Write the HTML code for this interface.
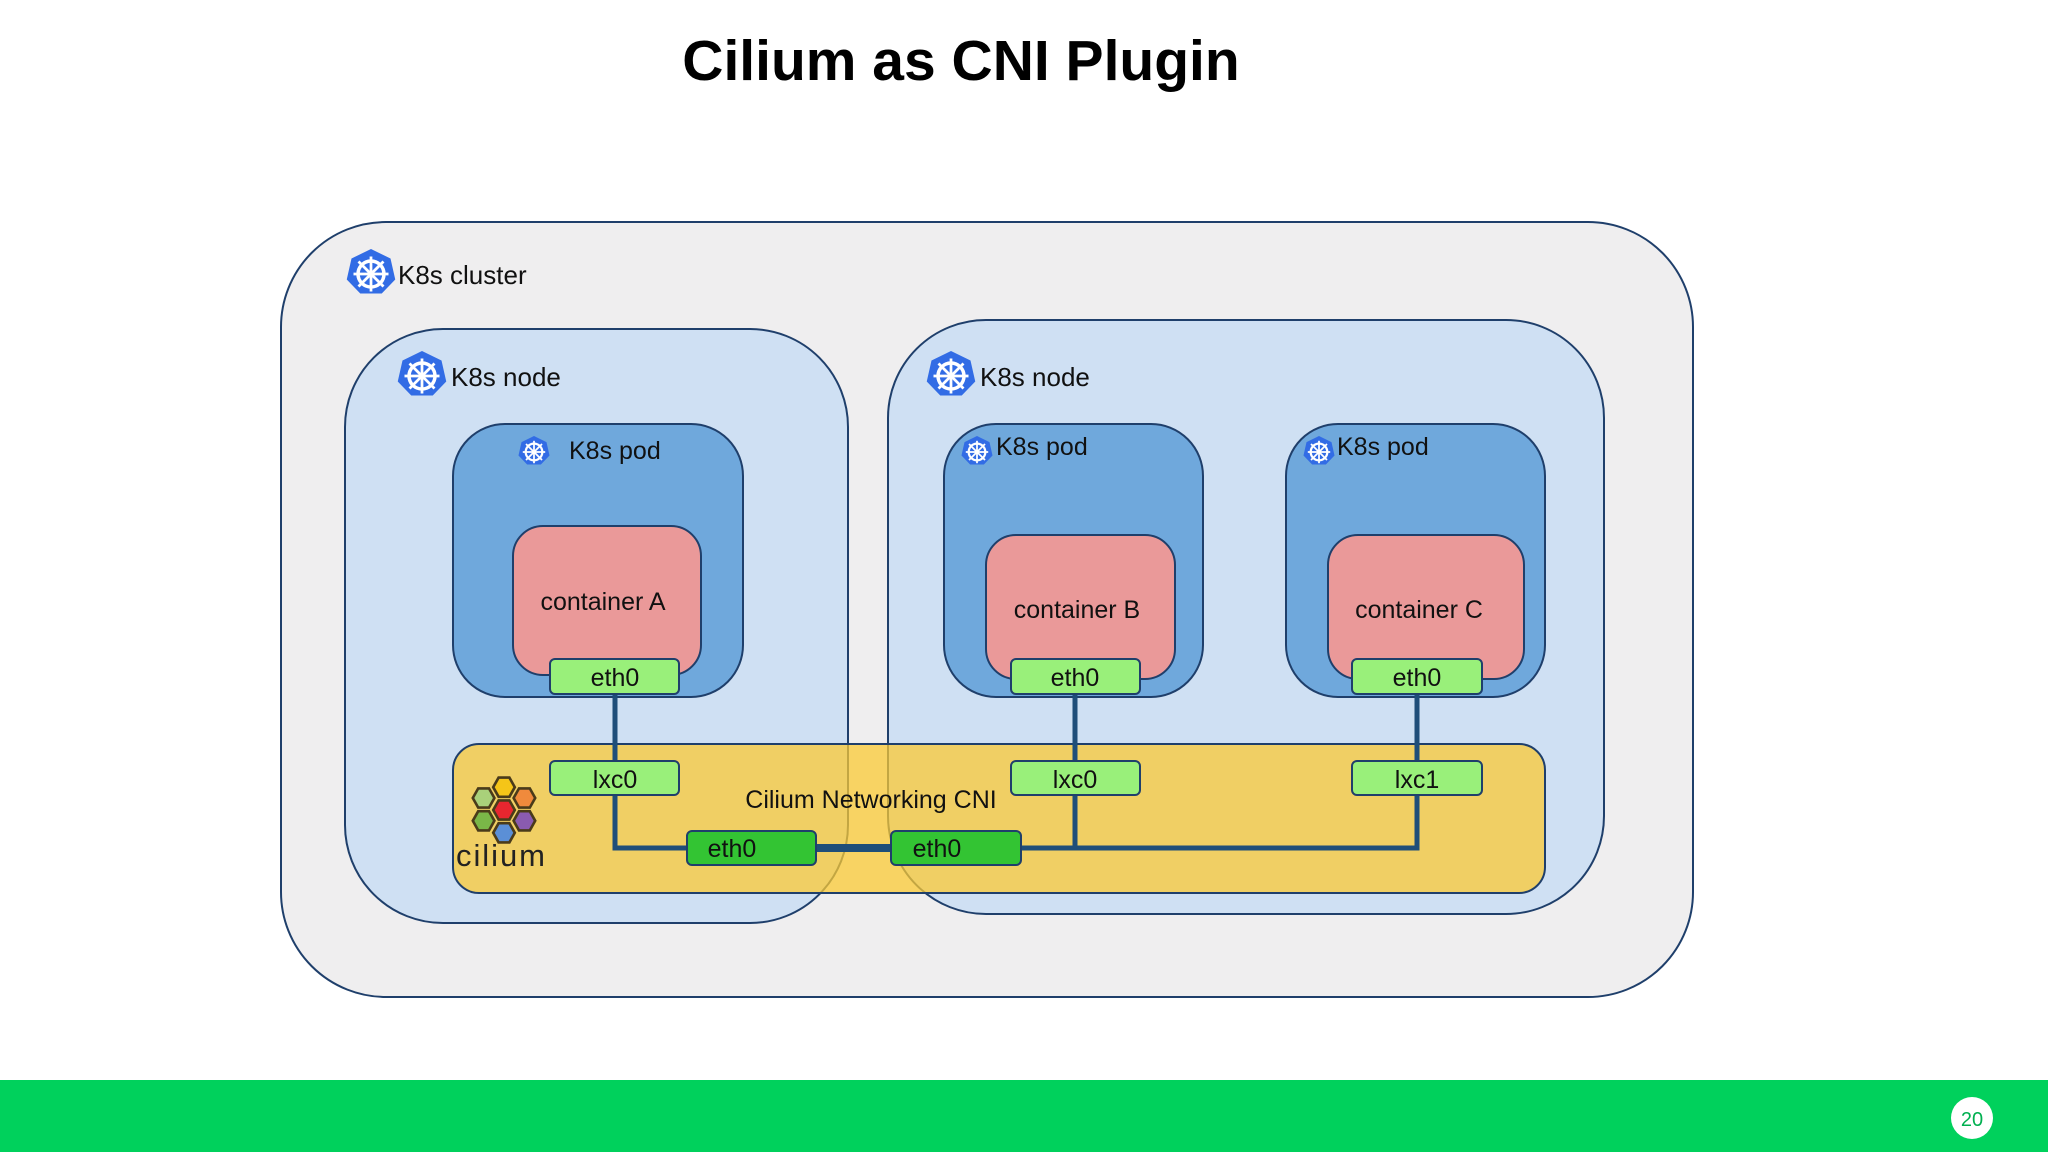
<!DOCTYPE html>
<html><head><meta charset="utf-8"><style>
html,body{margin:0;padding:0;background:#fff;}
svg{display:block}
text{font-family:"Liberation Sans",sans-serif;}
</style></head><body>
<svg width="2048" height="1152" viewBox="0 0 2048 1152" xmlns="http://www.w3.org/2000/svg">
<defs>
<g id="k8s">
<polygon points="0,-10 7.8,-6.2 9.7,2.2 4.3,7.8 -4.3,7.8 -9.7,2.2 -7.8,-6.2" fill="#326ce5"/>
<circle r="5.2" fill="none" stroke="#fff" stroke-width="1.4"/>
<circle r="1.3" fill="#fff"/>
<g stroke="#fff" stroke-width="1.1">
<line x1="0" y1="-7" x2="0" y2="7"/><line x1="-7" y1="0" x2="7" y2="0"/>
<line x1="-5" y1="-5" x2="5" y2="5"/><line x1="-5" y1="5" x2="5" y2="-5"/>
</g>
</g>
<polygon id="hex" points="-9,0 -4.5,-8 4.5,-8 9,0 4.5,8 -4.5,8" stroke="#4a3b1a" stroke-width="2.2"/>
</defs>
<rect width="2048" height="1152" fill="#fff"/>
<text x="961" y="80" text-anchor="middle" font-size="57" font-weight="bold" fill="#000">Cilium as CNI Plugin</text>

<rect x="281" y="222" width="1412" height="775" rx="105" fill="#efeeef" stroke="#1f3f6b" stroke-width="2"/>
<use href="#k8s" transform="translate(371,274) scale(2.5)"/>
<text x="398" y="284" font-size="26" fill="#111">K8s cluster</text>

<rect x="345" y="329" width="503" height="594" rx="98" fill="#cfe0f3" stroke="#1f3f6b" stroke-width="2"/>
<rect x="888" y="320" width="716" height="594" rx="98" fill="#cfe0f3" stroke="#1f3f6b" stroke-width="2"/>
<use href="#k8s" transform="translate(422,376) scale(2.5)"/>
<text x="451" y="386" font-size="26" fill="#111">K8s node</text>
<use href="#k8s" transform="translate(951,376) scale(2.5)"/>
<text x="980" y="386" font-size="26" fill="#111">K8s node</text>

<rect x="453" y="424" width="290" height="273" rx="52" fill="#6fa8dc" stroke="#1f3f6b" stroke-width="2"/>
<rect x="944" y="424" width="259" height="273" rx="52" fill="#6fa8dc" stroke="#1f3f6b" stroke-width="2"/>
<rect x="1286" y="424" width="259" height="273" rx="52" fill="#6fa8dc" stroke="#1f3f6b" stroke-width="2"/>
<use href="#k8s" transform="translate(534,452) scale(1.6)"/>
<text x="569" y="459" font-size="25" fill="#111">K8s pod</text>
<use href="#k8s" transform="translate(977,452) scale(1.6)"/>
<text x="996" y="455" font-size="25" fill="#111">K8s pod</text>
<use href="#k8s" transform="translate(1319,452) scale(1.6)"/>
<text x="1337" y="455" font-size="25" fill="#111">K8s pod</text>

<rect x="513" y="526" width="188" height="149" rx="30" fill="#ea9999" stroke="#1f3f6b" stroke-width="2"/>
<rect x="986" y="535" width="189" height="144" rx="30" fill="#ea9999" stroke="#1f3f6b" stroke-width="2"/>
<rect x="1328" y="535" width="196" height="144" rx="30" fill="#ea9999" stroke="#1f3f6b" stroke-width="2"/>
<text x="603" y="610" text-anchor="middle" font-size="25" fill="#111">container A</text>
<text x="1077" y="618" text-anchor="middle" font-size="25" fill="#111">container B</text>
<text x="1419" y="618" text-anchor="middle" font-size="25" fill="#111">container C</text>

<rect x="453" y="744" width="1092" height="149" rx="26" fill="#fbc934" fill-opacity="0.75" stroke="#1f3f6b" stroke-width="2"/>
<text x="871" y="808" text-anchor="middle" font-size="25" fill="#111">Cilium Networking CNI</text>

<g stroke="#1f4e79" stroke-width="5" fill="none">
<line x1="615" y1="694" x2="615" y2="761"/>
<polyline points="615,795 615,848 687,848"/>
<line x1="1075" y1="694" x2="1075" y2="761"/>
<line x1="1075" y1="795" x2="1075" y2="848"/>
<line x1="1417" y1="694" x2="1417" y2="761"/>
<polyline points="1021,848 1417,848 1417,795"/>
</g>
<line x1="816" y1="848" x2="891" y2="848" stroke="#1f4e79" stroke-width="8"/>

<g stroke="#1f3f6b" stroke-width="2" fill="#99f07a">
<rect x="550" y="659" width="129" height="35" rx="5"/>
<rect x="1011" y="659" width="129" height="35" rx="5"/>
<rect x="1352" y="659" width="130" height="35" rx="5"/>
<rect x="550" y="761" width="129" height="34" rx="5"/>
<rect x="1011" y="761" width="129" height="34" rx="5"/>
<rect x="1352" y="761" width="130" height="34" rx="5"/>
</g>
<g stroke="#1f3f6b" stroke-width="2" fill="#33c433">
<rect x="687" y="831" width="129" height="34" rx="5"/>
<rect x="891" y="831" width="130" height="34" rx="5"/>
</g>
<g font-size="25" fill="#111" text-anchor="middle">
<text x="615" y="686">eth0</text>
<text x="1075" y="686">eth0</text>
<text x="1417" y="686">eth0</text>
<text x="615" y="788">lxc0</text>
<text x="1075" y="788">lxc0</text>
<text x="1417" y="788">lxc1</text>
<text x="732" y="857">eth0</text>
<text x="937" y="857">eth0</text>
</g>

<g transform="translate(504,810) scale(1.2)">
<use href="#hex" fill="#f5c518" transform="translate(0,-19)"/>
<use href="#hex" fill="#a9d17a" transform="translate(-17,-10)"/>
<use href="#hex" fill="#f08a3c" transform="translate(17,-10)"/>
<use href="#hex" fill="#e8262f" transform="translate(0,0)"/>
<use href="#hex" fill="#7ab648" transform="translate(-17,9)"/>
<use href="#hex" fill="#8a5bb0" transform="translate(17,9)"/>
<use href="#hex" fill="#5b8fd6" transform="translate(0,19)"/>
</g>
<text x="456" y="866" font-size="31" fill="#222" textLength="89">cilium</text>

<rect x="0" y="1080" width="2048" height="72" fill="#00d15c"/>
<circle cx="1972" cy="1118" r="21" fill="#fff"/>
<text x="1972" y="1126" text-anchor="middle" font-size="20" fill="#00b050">20</text>
</svg>
</body></html>
